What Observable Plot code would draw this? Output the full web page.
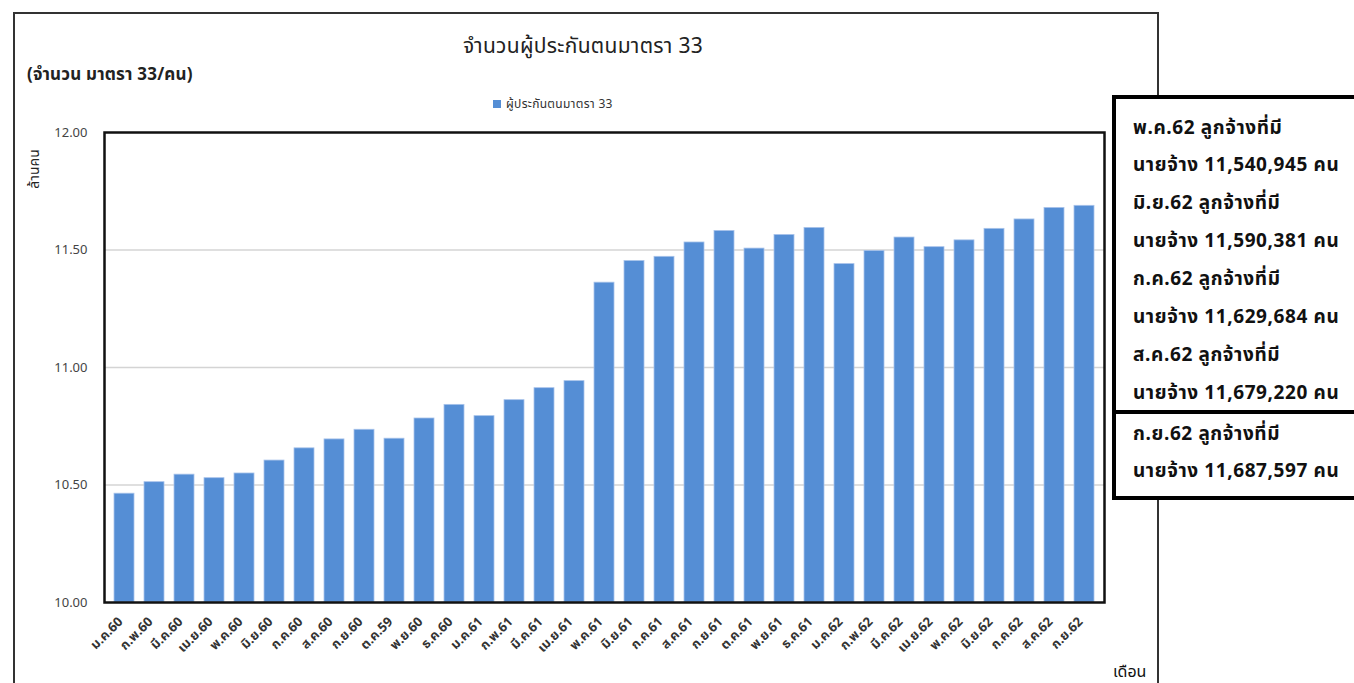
<!DOCTYPE html>
<html>
<head>
<meta charset="utf-8">
<script src="https://cdn.jsdelivr.net/npm/d3@7"></script>
<script src="https://cdn.jsdelivr.net/npm/@observablehq/plot@0.6"></script>
<style>
  html, body { margin: 0; padding: 0; background: #fff; }
  #wrap { position: relative; width: 1354px; height: 683px; overflow: hidden; background: #fff;
          font-family: Tahoma, "Noto Sans Thai", "Leelawadee UI", "Noto Sans", "DejaVu Sans", sans-serif; color: #222; }
  #chart { position: absolute; left: 0; top: 0; }
  .abs { position: absolute; white-space: nowrap; }
  #outer { position: absolute; left: 13px; top: 12px; width: 1146px; height: 700px; border: 2px solid #333; box-sizing: border-box; }
  #title { left: 0; width: 1166px; text-align: center; top: 31px; font-size: 21px; color: #222; letter-spacing: 0.3px; }
  #subtitle { left: 27px; top: 62px; font-size: 17px; font-weight: bold; color: #222; letter-spacing: 0.2px; }
  #legend { left: 493px; top: 95px; font-size: 12px; color: #333; letter-spacing: 0.3px; }
  #legend span.sw { display: inline-block; width: 8px; height: 8px; background: #558ed5; margin-right: 5px; vertical-align: 0px; }
  #ylabel { left: 34px; top: 169px; font-size: 14px; transform: translate(-50%, -50%) rotate(-90deg); color: #222; }
  #xlabel { left: 1113px; top: 660px; font-size: 16px; color: #111; }
  #box { position: absolute; left: 1112px; top: 95px; width: 260px; height: 405px; border: 4px solid #000; background: #fff; box-sizing: border-box; }
  #box .sec1 { position: absolute; left: 0; top: 0; right: 0; height: 311px; border-bottom: 4px solid #000; }
  #box .line { position: absolute; left: 17px; font-size: 19px; font-weight: bold; color: #111; letter-spacing: 0.6px; }
</style>
</head>
<body>
<div id="wrap">
  <div id="outer"></div>
  <div id="chart"></div>
  <div class="abs" id="title"></div>
  <div class="abs" id="subtitle"></div>
  <div class="abs" id="legend"></div>
  <div class="abs" id="ylabel"></div>
  <div class="abs" id="xlabel"></div>
  <div id="box"><div class="sec1"></div></div>
</div>
<script>
// ---- data ----
const months = ["ม.ค.60","ก.พ.60","มี.ค.60","เม.ย.60","พ.ค.60","มิ.ย.60","ก.ค.60","ส.ค.60","ก.ย.60","ต.ค.59","พ.ย.60","ธ.ค.60",
  "ม.ค.61","ก.พ.61","มี.ค.61","เม.ย.61","พ.ค.61","มิ.ย.61","ก.ค.61","ส.ค.61","ก.ย.61","ต.ค.61","พ.ย.61","ธ.ค.61",
  "ม.ค.62","ก.พ.62","มี.ค.62","เม.ย.62","พ.ค.62","มิ.ย.62","ก.ค.62","ส.ค.62","ก.ย.62"];
const values = [10.463, 10.512, 10.544, 10.529, 10.549, 10.604, 10.656, 10.694, 10.735, 10.697, 10.783, 10.841,
  10.793, 10.861, 10.912, 10.942, 11.361, 11.453, 11.471, 11.532, 11.581, 11.506, 11.564, 11.594,
  11.440, 11.496, 11.553, 11.512, 11.541, 11.590, 11.630, 11.679, 11.688];
const yTicks = [10, 10.5, 11, 11.5, 12];
const titleText = "จำนวนผู้ประกันตนมาตรา 33";
const subtitleText = "(จำนวน มาตรา 33/คน)";
const seriesName = "ผู้ประกันตนมาตรา 33";
const yLabelText = "ล้านคน";
const xLabelText = "เดือน";
const noteMonths = ["พ.ค.62", "มิ.ย.62", "ก.ค.62", "ส.ค.62", "ก.ย.62"];
const noteCounts = [11540945, 11590381, 11629684, 11679220, 11687597];

// ---- chart ----
const data = months.map((m, i) => ({month: m, value: values[i]}));
const fontFam = 'Tahoma, "Noto Sans Thai", "Leelawadee UI", "Noto Sans", "DejaVu Sans", sans-serif';

const chart = Plot.plot({
  width: 1354, height: 683,
  marginLeft: 104, marginRight: 250, marginTop: 132, marginBottom: 81,
  style: {fontFamily: fontFam, background: "transparent", color: "#333"},
  x: {domain: months, padding: 0.32, label: null},
  y: {domain: [10, 12], label: null},
  marks: [
    Plot.gridY(yTicks.slice(1, -1), {stroke: "#d4d4d4", strokeOpacity: 1, strokeWidth: 1.5}),
    Plot.barY(data, {x: "month", y1: d => 10, y2: "value", fill: "#558ed5", stroke: "#a8c3ea", strokeWidth: 0.8}),
    Plot.frame({stroke: "#111", strokeWidth: 2.5}),
    Plot.axisY({ticks: yTicks, tickFormat: d => d.toFixed(2), tickSize: 0, tickPadding: 17, fontSize: 13, fill: "#444", label: null}),
    Plot.axisX({tickRotate: -45, tickSize: 0, tickPadding: 17, dx: -4, fontSize: 13, fontWeight: "bold", fill: "#333", label: null})
  ]
});
document.getElementById("chart").appendChild(chart);

document.getElementById("title").textContent = titleText;
document.getElementById("subtitle").textContent = subtitleText;
document.getElementById("legend").innerHTML = '<span class="sw"></span>' + seriesName;
document.getElementById("ylabel").textContent = yLabelText;
document.getElementById("xlabel").textContent = xLabelText;

const box = document.getElementById("box");
const fmt = d3.format(",");
const lineTops = [15, 52, 90, 128, 166, 204, 242, 280, 321, 358];
let k = 0;
noteMonths.forEach((m, i) => {
  const l1 = document.createElement("div");
  l1.className = "line"; l1.textContent = m + " ลูกจ้างที่มี";
  l1.style.top = lineTops[k++] + "px";
  const l2 = document.createElement("div");
  l2.className = "line"; l2.textContent = "นายจ้าง " + fmt(noteCounts[i]) + " คน";
  l2.style.top = lineTops[k++] + "px";
  box.appendChild(l1); box.appendChild(l2);
});
</script>
</body>
</html>
